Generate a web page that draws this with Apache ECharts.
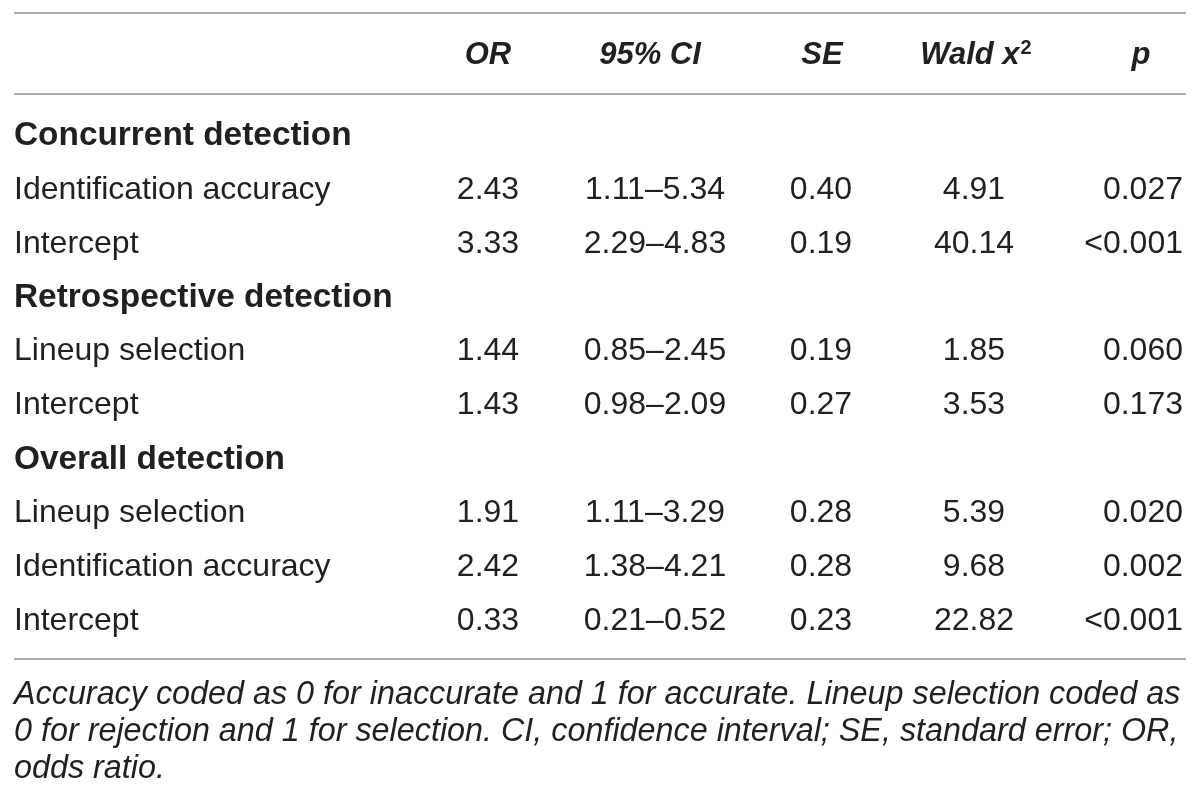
<!DOCTYPE html>
<html>
<head>
<meta charset="utf-8">
<script src="https://cdn.jsdelivr.net/npm/echarts@6/dist/echarts.min.js"></script>
<style>
html,body{margin:0;padding:0;background:#fff;}
#chart{width:1200px;height:802px;}
</style>
</head>
<body>
<div id="chart"></div>
<script>
// ---------- DATA ----------
const headers = ['OR', '95% CI', 'SE', 'Wald x', 'p'];
const headerSup = ['', '', '', '2', ''];
// row kind: 's' = section heading, 'd' = data row
const rowKinds = ['s', 'd', 'd', 's', 'd', 'd', 's', 'd', 'd', 'd'];
const rowLabels = ['Concurrent detection', 'Identification accuracy', 'Intercept',
  'Retrospective detection', 'Lineup selection', 'Intercept',
  'Overall detection', 'Lineup selection', 'Identification accuracy', 'Intercept'];
const orValues = [null, '2.43', '3.33', null, '1.44', '1.43', null, '1.91', '2.42', '0.33'];
const ciValues = [null, '1.11–5.34', '2.29–4.83', null, '0.85–2.45', '0.98–2.09', null, '1.11–3.29', '1.38–4.21', '0.21–0.52'];
const seValues = [null, '0.40', '0.19', null, '0.19', '0.27', null, '0.28', '0.28', '0.23'];
const waldValues = [null, '4.91', '40.14', null, '1.85', '3.53', null, '5.39', '9.68', '22.82'];
const pValues = [null, '0.027', '<0.001', null, '0.060', '0.173', null, '0.020', '0.002', '<0.001'];
const footnoteLines = [
  'Accuracy coded as 0 for inaccurate and 1 for accurate. Lineup selection coded as',
  '0 for rejection and 1 for selection. CI, confidence interval; SE, standard error; OR,',
  'odds ratio.'
];

// ---------- LAYOUT (pixel units on hidden value axes) ----------
const L = {
  left: 14, right: 1186,
  colX: [488, 655, 821, 974, 1183],
  colAlign: ['center', 'center', 'center', 'center', 'right'],
  headerX: [488, 650, 822, 976, 1141],
  headerY: 55,
  firstRowY: 136, rowPitch: 53.9,
  footY: 695, footPitch: 37,
  rules: [13, 94, 659],
  font: '"Liberation Sans", Arial, Helvetica, sans-serif',
  color: '#231f20',
  ruleColor: '#ababab'
};

const styles = {
  body: { fontStyle: 'normal', fontWeight: 'normal', size: 32 },
  section: { fontStyle: 'normal', fontWeight: 'bold', size: 33.4 },
  header: { fontStyle: 'italic', fontWeight: 'bold', size: 31 },
  foot: { fontStyle: 'italic', fontWeight: 'normal', size: 32.35 }
};

const cells = [];
rowLabels.forEach((lab, i) => {
  const y = L.firstRowY + i * L.rowPitch;
  cells.push({ value: [L.left, y], text: lab, align: 'left', kind: rowKinds[i] === 's' ? 'section' : 'body' });
  [orValues, ciValues, seValues, waldValues, pValues].forEach((arr, c) => {
    if (arr[i] != null) cells.push({ value: [L.colX[c], y], text: arr[i], align: L.colAlign[c], kind: 'body' });
  });
});
headers.forEach((h, c) => {
  cells.push({ value: [L.headerX[c], L.headerY], text: h, sup: headerSup[c], align: 'center', kind: 'header' });
});
footnoteLines.forEach((t, k) => {
  cells.push({ value: [L.left, L.footY + k * L.footPitch], text: t, align: 'left', kind: 'foot' });
});

const chart = echarts.init(document.getElementById('chart'), null, { renderer: 'canvas' });
chart.setOption({
  backgroundColor: '#ffffff',
  animation: false,
  grid: { left: 0, right: 0, top: 0, bottom: 0 },
  xAxis: { type: 'value', min: 0, max: 1200, show: false },
  yAxis: { type: 'value', min: 0, max: 802, inverse: true, show: false },
  series: [
    {
      type: 'custom',
      coordinateSystem: 'cartesian2d',
      data: L.rules.map(y => [L.left, y, L.right]),
      renderItem: function (params, api) {
        const a = api.coord([api.value(0), api.value(1)]);
        const b = api.coord([api.value(2), api.value(1)]);
        return { type: 'line', shape: { x1: a[0], y1: a[1], x2: b[0], y2: b[1] },
          style: { stroke: L.ruleColor, lineWidth: 2 } };
      }
    },
    {
      type: 'custom',
      coordinateSystem: 'cartesian2d',
      data: cells,
      renderItem: function (params, api) {
        const d = cells[params.dataIndex];
        const p = api.coord([api.value(0), api.value(1)]);
        const st = styles[d.kind];
        const fontMain = st.fontStyle + ' ' + st.fontWeight + ' ' + st.size + 'px ' + L.font;
        if (d.sup) {
          return {
            type: 'text', x: p[0], y: p[1],
            style: {
              text: '{m|' + d.text + '}{s|' + d.sup + '}',
              align: d.align, verticalAlign: 'middle', fill: L.color,
              rich: {
                m: { fontSize: st.size, fontStyle: st.fontStyle, fontWeight: st.fontWeight, fontFamily: L.font, fill: L.color, color: L.color },
                s: { fontSize: 20, fontStyle: 'normal', fontWeight: 'bold', fontFamily: L.font, fill: L.color, color: L.color, verticalAlign: 'top', padding: [0, 0, 14, 1] }
              }
            }
          };
        }
        return {
          type: 'text', x: p[0], y: p[1],
          style: { text: d.text, font: fontMain, fill: L.color, align: d.align, verticalAlign: 'middle' }
        };
      }
    }
  ]
});
</script>
</body>
</html>
